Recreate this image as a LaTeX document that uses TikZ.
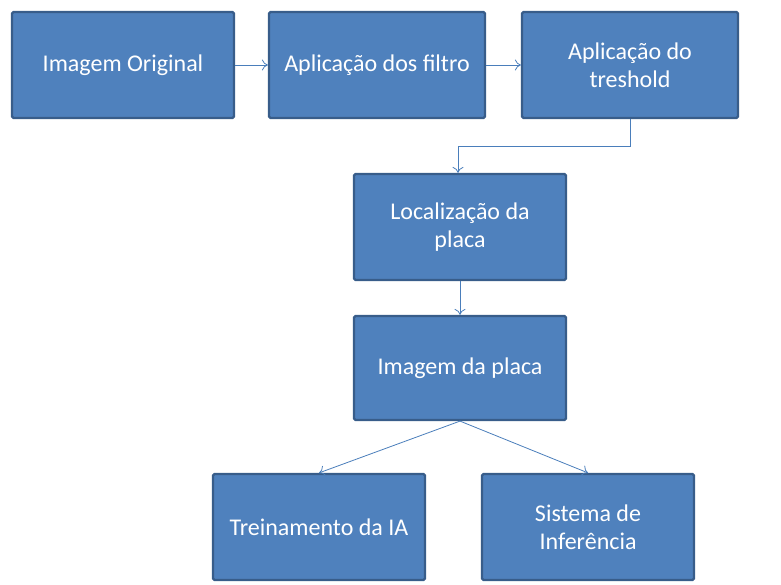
\documentclass[tikz,border=0pt]{standalone}
\usepackage{fontspec}
\setmainfont{Carlito}
\usetikzlibrary{arrows.meta}
\definecolor{caixa}{HTML}{4F81BD}
\definecolor{borda}{HTML}{385D8A}
\definecolor{seta}{HTML}{4A7EBB}
\begin{document}
\begin{tikzpicture}[x=1pt,y=-1pt,
    etapa/.style={draw=borda, fill=caixa, line width=2.2pt, text=white,
      rounded corners=1.5pt, minimum width=212pt, minimum height=106pt,
      align=center, font=\fontsize{24}{28}\selectfont},
    liga/.style={draw=seta, line width=0.8pt, -{To[length=6pt,width=11pt]}}]
  \useasboundingbox (0,0) rectangle (781,585);
  \draw
    (123,65) node[etapa, minimum width=222pt] (original){Imagem Original}
    (377,65) node[etapa, minimum width=216pt] (filtro){Aplicação dos filtro}
    (630,65) node[etapa, minimum width=216pt] (treshold){Aplicação do\\treshold}
    (460,227) node[etapa] (localiza){Localização da\\placa}
    (460,368) node[etapa, minimum height=104pt] (placa){Imagem da placa}
    (319,527) node[etapa] (treino){Treinamento da IA}
    (588,527) node[etapa] (inferencia){Sistema de\\Inferência};
  \coordinate (dobra1) at (630,146);
  \coordinate (dobra2) at (458,146);
  \begin{scope}[liga]
    \draw (original) to (filtro);
    \draw (filtro) to (treshold);
    \draw (treshold.south) -- (dobra1) -- (dobra2) -- (localiza.north -| dobra2);
    \draw (localiza) to (placa);
    \draw (placa.south) to (treino.north);
    \draw (placa.south) to (inferencia.north);
  \end{scope}
\end{tikzpicture}
\end{document}
